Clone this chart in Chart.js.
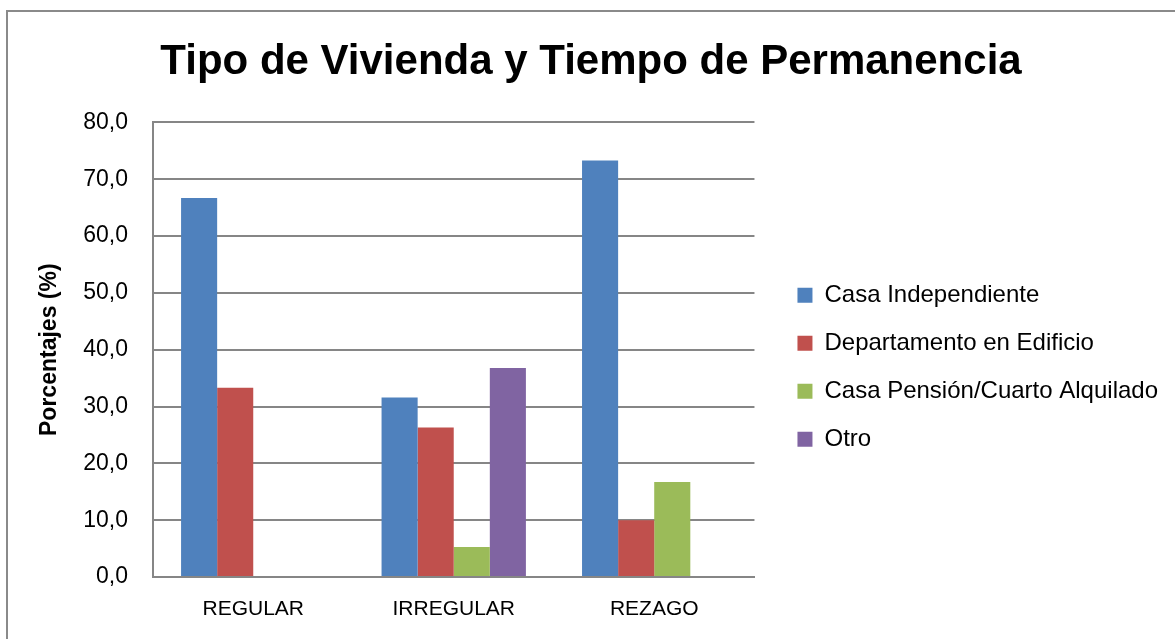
<!DOCTYPE html>
<html>
<head>
<meta charset="utf-8">
<script src="https://cdn.jsdelivr.net/npm/chart.js@4"></script>
<style>
  html, body { margin: 0; padding: 0; background: #ffffff; }
  #wrap { position: relative; width: 1175px; height: 639px; }
</style>
</head>
<body>
<div id="wrap"><canvas id="c" width="1175" height="639"></canvas></div>
<script>
const categories = ['REGULAR', 'IRREGULAR', 'REZAGO'];
const casaIndependiente = [66.7, 31.6, 73.3];
const departamentoEdificio = [33.3, 26.3, 10.0];
const casaPension = [0, 5.3, 16.7];
const otro = [0, 36.8, 0];
const seriesNames = ['Casa Independiente', 'Departamento en Edificio', 'Casa Pensión/Cuarto Alquilado', 'Otro'];
const titleText = 'Tipo de Vivienda y Tiempo de Permanencia';
const yTitle = 'Porcentajes (%)';

const FONT = "'Liberation Sans', Arial, sans-serif";
const GRID = '#868686';

const frame = {
  id: 'frame',
  beforeDraw(chart) {
    const ctx = chart.ctx;
    ctx.save();
    ctx.fillStyle = '#ffffff';
    ctx.fillRect(0, 0, chart.width, chart.height);
    ctx.strokeStyle = '#8a8a8a';
    ctx.lineWidth = 2;
    ctx.strokeRect(7, 11, chart.width + 20, chart.height + 20);
    ctx.restore();
  }
};

new Chart(document.getElementById('c'), {
  type: 'bar',
  data: {
    labels: categories,
    datasets: [
      { label: seriesNames[0], data: casaIndependiente, backgroundColor: '#4F81BD' },
      { label: seriesNames[1], data: departamentoEdificio, backgroundColor: '#C0504D' },
      { label: seriesNames[2], data: casaPension, backgroundColor: '#9BBB59' },
      { label: seriesNames[3], data: otro, backgroundColor: '#8064A2' }
    ]
  },
  options: {
    responsive: false,
    animation: false,
    devicePixelRatio: 1,
    datasets: { bar: { categoryPercentage: 0.72, barPercentage: 1.0, borderWidth: 0 } },
    layout: { padding: { left: 14, right: 7, top: 0, bottom: 0 } },
    plugins: {
      title: {
        display: true,
        text: titleText,
        color: '#000000',
        font: { family: FONT, size: 42, weight: 'bold' },
        padding: { top: 37, bottom: 35 }
      },
      legend: {
        position: 'right',
        align: 'center',
        fullSize: false,
        maxWidth: 402,
        title: { display: true, text: ' ', font: { size: 1 }, padding: 17 },
        labels: {
          color: '#000000',
          font: { family: FONT, size: 24 },
          boxWidth: 15,
          boxHeight: 15,
          padding: 24
        }
      },
      tooltip: { enabled: false }
    },
    scales: {
      x: {
        grid: { display: false, drawTicks: false },
        border: { display: true, color: GRID, width: 2 },
        ticks: { color: '#000000', font: { family: FONT, size: 21 }, padding: 20 },
        afterFit: s => { s.height = 62; }
      },
      y: {
        min: 0,
        max: 80,
        grid: { color: GRID, lineWidth: 2, drawTicks: true, tickLength: 0 },
        border: { display: true, color: GRID, width: 2 },
        ticks: {
          stepSize: 10,
          color: '#000000',
          font: { family: FONT, size: 23 },
          padding: 25,
          callback: v => v.toFixed(1).replace('.', ',')
        },
        title: {
          display: true,
          text: yTitle,
          color: '#000000',
          font: { family: FONT, size: 23, weight: 'bold' },
          padding: { top: 22, bottom: 0 }
        },
        afterFit: s => { s.width = 139; }
      },
      gap: {
        type: 'linear',
        position: 'right',
        display: true,
        grid: { display: false, drawTicks: false },
        border: { display: false },
        ticks: { display: false },
        afterFit: s => { s.width = 19; }
      }
    }
  },
  plugins: [frame]
});
</script>
</body>
</html>
